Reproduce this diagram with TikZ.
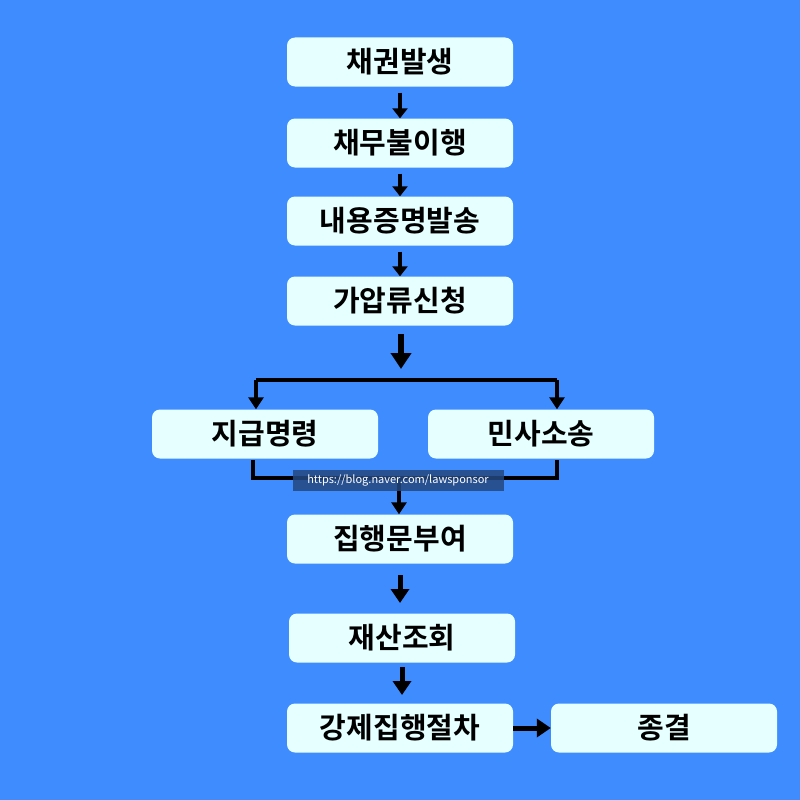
\documentclass[tikz,border=0pt]{standalone}
\usepackage{fontspec}
\setmainfont{Noto Sans CJK KR}[BoldFont={Noto Sans CJK KR Bold}]
\usetikzlibrary{arrows.meta}
\definecolor{bgblue}{HTML}{3F8CFF}
\definecolor{boxfill}{HTML}{E6FFFF}
\definecolor{markblue}{HTML}{24477F}
\newcommand{\flow}[2]{\draw[-{Triangle[width=15pt,length=10pt]}, line width=4pt, shorten <=6pt] (#1) -- (#2)}
\newcommand{\bigflow}[2]{\draw[-{Triangle[width=18pt,length=14pt]}, line width=5pt] (#1) -- (#2)}

\begin{document}
\begin{tikzpicture}[x=1pt, y=-1pt,
                    box/.style={
                        draw=none, fill=boxfill, rounded corners=8pt,
                        minimum width=226pt, minimum height=49pt,
                        font=\fontsize{29}{32}\selectfont\bfseries
                    },
                    bar/.style={line width=4pt}]
    \fill[bgblue] (0,0) rectangle (800,800);
    \useasboundingbox (0,0) rectangle (800,800);

    \node[box] (claim) at (400,62) {채권발생};
    \node[box] (default) at (400,143) {채무불이행};
    \node[box] (notice) at (400,221) {내용증명발송};
    \node[box] (seize) at (400,301) {가압류신청};
    \node[box] (order) at (265,434) {지급명령};
    \node[box] (suit) at (541,434) {민사소송};
    \node[box] (writ) at (400,539) {집행문부여};
    \node[box] (assets) at (402,638) {재산조회};
    \node[box] (enforce) at (400,728) {강제집행절차};
    \node[box] (done) at (664,728) {종결};

    \coordinate (splitL) at (256,380);
    \coordinate (splitR) at (557,380);
    \coordinate (joinL) at (253,478);
    \coordinate (joinR) at (557,478);
    \coordinate (joinM) at (399,478);

    \flow{claim.south}{default.north};
    \flow{default.south}{notice.north};
    \flow{notice.south}{seize.north};
    \draw[-{Triangle[width=20pt,length=16pt]}, line width=6pt] (401,334) -- (401,369);

    \draw[bar] (splitL) -- (splitR);
    \draw[-{Triangle[width=15pt,length=12pt]}, line width=4pt] (splitL) -- (splitL |- order.north);
    \draw[-{Triangle[width=15pt,length=12pt]}, line width=4pt] (splitR) -- (splitR |- suit.north);

    \draw[bar] (253,460) -- (joinL) -- (joinR) -- (557,460);
    \draw[-{Triangle[width=15pt,length=12pt]}, line width=4pt] (joinM) -- (joinM |- writ.north);

    \node[fill=markblue, fill opacity=0.85, text opacity=1, text=white,
          minimum width=211pt, minimum height=21pt, inner sep=0pt,
          font=\fontsize{11}{12}\selectfont] (mark) at (398,480) {https://blog.naver.com/lawsponsor};

    \bigflow{400,575}{400,603};
    \bigflow{402,667}{402,695};
    \bigflow{enforce.east}{done.west};
\end{tikzpicture}
\end{document}
